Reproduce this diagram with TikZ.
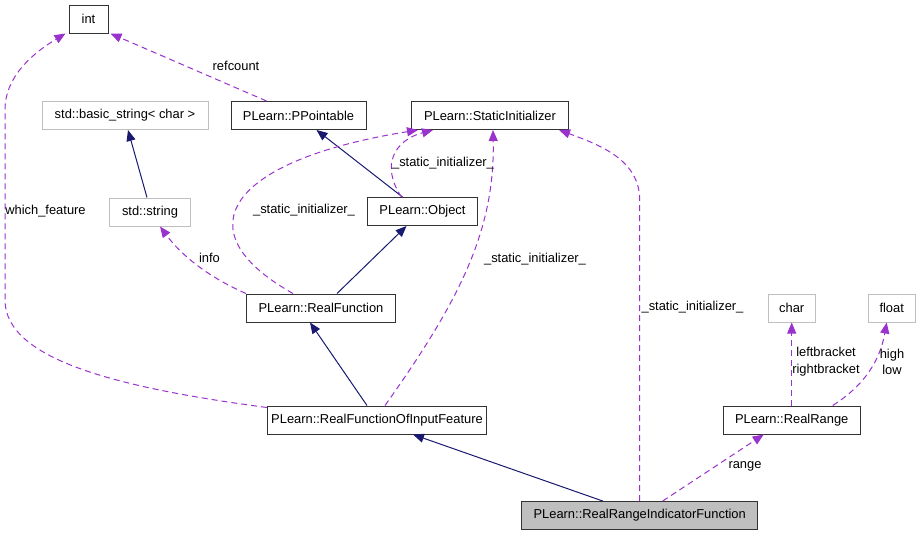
\documentclass[tikz,border=0pt]{standalone}
\usepackage{fontspec}
\setmainfont{Liberation Sans}
\usepackage{xcolor}
\usepackage{tikz}
\usetikzlibrary{arrows.meta}
\definecolor{dep}{HTML}{9A32CD}
\definecolor{inh}{HTML}{191970}
\definecolor{ext}{HTML}{BFBFBF}

\begin{document}
\begin{tikzpicture}[x=1pt, y=-1pt,
  every node/.style={font=\fontsize{12.9pt}{16.7pt}\selectfont},
  cls/.style={draw=black!80, line width=1pt, minimum height=28pt, inner sep=0pt},
  extcls/.style={draw=ext, line width=1pt, minimum height=28pt, inner sep=0pt},
  inherit/.style={draw=inh, line width=1pt, -{Triangle[length=11pt, width=9pt]}},
  member/.style={draw=dep, line width=1pt, dash pattern=on 6pt off 4pt,
    -{Triangle[length=11pt, width=9pt, fill=dep]}},
  lbl/.style={align=center, inner sep=0pt}]
\useasboundingbox (0,0) rectangle (920,536);

\node[cls, minimum width=39pt] (int) at (88.5,19) {int};
\node[cls, minimum width=135pt] (pp) at (298.5,115.5) {PLearn::PPointable};
\node[cls, minimum width=157pt] (si) at (490,115.5) {PLearn::StaticInitializer};
\node[extcls, minimum width=166pt] (bs) at (125,115.5) {std::basic\_string< char >};
\node[extcls, minimum width=81pt] (str) at (150,212) {std::string};
\node[cls, minimum width=110pt] (obj) at (422.5,211.5) {PLearn::Object};
\node[cls, minimum width=149pt] (rf) at (321,308) {PLearn::RealFunction};
\node[cls, minimum width=219pt] (rfoif) at (377,420) {PLearn::RealFunctionOfInputFeature};
\node[cls, minimum width=236pt, fill=ext] (rrif) at (639.7,515.5) {PLearn::RealRangeIndicatorFunction};
\node[cls, minimum width=137pt] (rr) at (791.7,420) {PLearn::RealRange};
\node[extcls, minimum width=47pt] (ch) at (791.7,308) {char};
\node[extcls, minimum width=47pt] (fl) at (891.7,308) {float};

\draw[inherit] ([xshift=-37pt]rrif.north) -- ([xshift=36pt]rfoif.south);
\draw[inherit] ([xshift=-10pt]rfoif.north) -- ([xshift=-11pt]rf.south);
\draw[inherit] ([xshift=16pt]rf.north) -- ([xshift=-16pt]obj.south);
\draw[inherit] ([xshift=-20pt]obj.north) -- ([xshift=18pt]pp.south);
\draw[inherit] ([xshift=-3pt]str.north) -- ([xshift=3pt]bs.south);

\draw[member] ([xshift=-32pt]pp.north) -- ([xshift=2pt]int.south east);
\draw[member] ([yshift=-2pt]rfoif.north west) .. controls (120,388) and (5,360) .. (5,300)
  -- (5,110) .. controls (5,75) and (35,52) .. ([xshift=-3pt]int.south west);
\draw[member] (rf.north west) .. controls (215,280) and (185,260) .. ([xshift=10pt]str.south);
\draw[member] ([xshift=-28pt]rf.north) .. controls (180,230) and (230,160) .. ([xshift=-72pt]si.south);
\draw[member] ([xshift=-21pt]obj.north) .. controls (380,165) and (395,140) .. ([xshift=-57pt]si.south);
\draw[member] ([xshift=8pt]rfoif.north) .. controls (460,300) and (495,230) .. ([xshift=3pt]si.south);
\draw[member] (rrif.north) -- (639.7,200) .. controls (639.7,160) and (600,145) .. ([xshift=-10pt]si.south east);
\draw[member] ([xshift=23pt]rrif.north) -- ([xshift=-28pt]rr.south);
\draw[member] (rr.north) -- (ch.south);
\draw[member] ([xshift=41pt]rr.north) .. controls (865,385) and (880,360) .. ([xshift=-5pt]fl.south);

\node[lbl] (l-refcount) at (236,66) {refcount};
\node[lbl] (l-which) at (45.5,211) {which\_feature};
\node[lbl] (l-info) at (209.5,258) {info};
\node[lbl] (l-si1) at (304,210) {\_static\_initializer\_};
\node[lbl] (l-si2) at (443,163) {\_static\_initializer\_};
\node[lbl] (l-si3) at (535,259) {\_static\_initializer\_};
\node[lbl] (l-si4) at (692.5,307) {\_static\_initializer\_};
\node[lbl] (l-range) at (745,466) {range};
\node[lbl] (l-bracket) at (826,362) {leftbracket\\rightbracket};
\node[lbl] (l-highlow) at (892,362) {high\\low};
\end{tikzpicture}
\end{document}
